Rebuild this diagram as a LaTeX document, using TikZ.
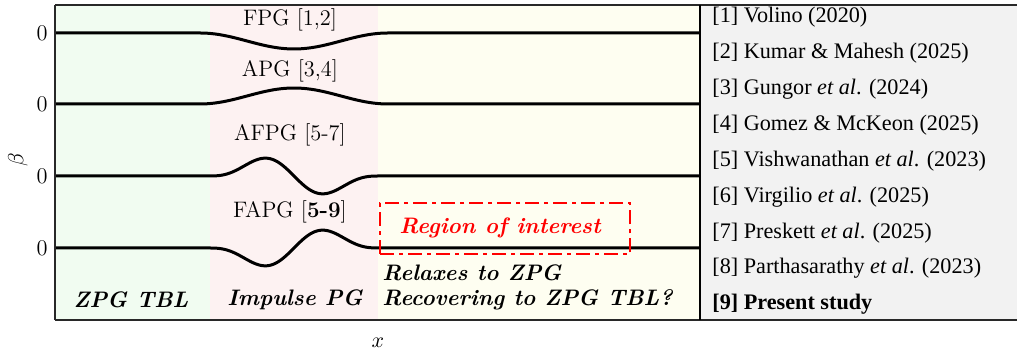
\documentclass[tikz,border=0pt]{standalone}
\usepackage{fontspec}
\newfontfamily\refsfont{Liberation Serif}
\usetikzlibrary{calc}
\definecolor{bggreen}{RGB}{241,252,241}
\definecolor{bgpink}{RGB}{253,242,242}
\definecolor{bgyellow}{RGB}{254,254,241}
\definecolor{bgpanel}{RGB}{242,242,242}
\definecolor{framegray}{RGB}{40,40,40}
\tikzset{
  curve/.style={line width=1.5pt, black},
  lbl/.style={font=\fontsize{11.2}{13}\selectfont, inner sep=0pt},
  emph/.style={font=\fontsize{11.2}{13}\selectfont\bfseries\itshape, inner sep=0pt},
  tick/.style={font=\fontsize{11.2}{13}\selectfont, inner sep=0pt, anchor=east},
  refitem/.style={font=\fontsize{11.1}{13}\refsfont, inner sep=0pt, anchor=west},
  roi/.style={draw=red, line width=1pt, dash pattern=on 7pt off 2.5pt on 2pt off 2.5pt},
}
\begin{document}
\begin{tikzpicture}[x=0.5pt,y=-0.5pt]
\useasboundingbox (0,0) rectangle (1017,356);
% backgrounds
\fill[bggreen] (55,5) rectangle (210,320);
\fill[bgpink] (210,5) rectangle (378,320);
\fill[bgyellow] (378,5) rectangle (700,320);
\fill[bgpanel] (700,5) rectangle (1017,320);
% curves
\draw[curve] (55,33) -- (200,33)
  plot[domain=0:1, samples=50] ({200+188*\x},{33+16*(1-cos(360*\x))/2}) -- (700,33);
\draw[curve] (55,104) -- (200,104)
  plot[domain=0:1, samples=50] ({200+188*\x},{104-16*(1-cos(360*\x))/2}) -- (700,104);
\draw[curve] (55,176) -- (208,176)
  plot[domain=0:1, samples=70] ({208+172*\x},{176-27.5*sin(360*\x)*(1-cos(360*\x))/2}) -- (700,176);
\draw[curve] (55,248) -- (208,248)
  plot[domain=0:1, samples=70] ({208+172*\x},{248+27.5*sin(360*\x)*(1-cos(360*\x))/2}) -- (700,248);
% frame
\draw[framegray, line width=1pt] (55,5) -- (1017,5);
\draw[framegray, line width=1pt] (55,320) -- (1017,320);
\draw[framegray, line width=1pt] (55,5) -- (55,320);
\draw[black, line width=1.2pt] (700,5) -- (700,320);
% ticks
\node[tick] (t1) at (48,33) {0};
\node[tick] (t2) at (48,104) {0};
\node[tick] (t3) at (48,176) {0};
\node[tick] (t4) at (48,248) {0};
\node[lbl, rotate=90] (beta) at (18,160) {$\beta$};
\node[lbl] (xlab) at (378,343) {$x$};
% curve labels
\node[lbl] (fpg) at (290,20) {FPG [1,2]};
\node[lbl] (apg) at (290,71) {APG [3,4]};
\node[lbl] (afpg) at (290,135) {AFPG [5-7]};
\node[lbl] (fapg) at (290,212) {FAPG [\textbf{5-9}]};
% region labels
\node[emph] (zpg) at (131,300) {ZPG TBL};
\node[emph] (imp) at (295,300) {Impulse PG};
\node[emph, anchor=west] (relax) at (382,273) {Relaxes to ZPG};
\node[emph, anchor=west] (recov) at (382,300) {Recovering to ZPG TBL?};
% region of interest
\node[roi, minimum width=250pt*0.5, minimum height=51pt*0.5, inner sep=0pt] (roibox) at (505,229) {};
\node[emph, text=red] (roitext) at (500,228) {Region of interest};
% references
\node[refitem] (r1) at (712,17) {[1] Volino (2020)};
\node[refitem] (r2) at (712,53) {[2] Kumar \& Mahesh (2025)};
\node[refitem] (r3) at (712,89) {[3] Gungor {\itshape et al}. (2024)};
\node[refitem] (r4) at (712,125) {[4] Gomez \& McKeon (2025)};
\node[refitem] (r5) at (712,161) {[5] Vishwanathan {\itshape et al}. (2023)};
\node[refitem] (r6) at (712,197) {[6] Virgilio {\itshape et al}. (2025)};
\node[refitem] (r7) at (712,233) {[7] Preskett {\itshape et al}. (2025)};
\node[refitem] (r8) at (712,268) {[8] Parthasarathy {\itshape et al}. (2023)};
\node[refitem] (r9) at (712,304) {\textbf{[9] Present study}};
\end{tikzpicture}
\end{document}
